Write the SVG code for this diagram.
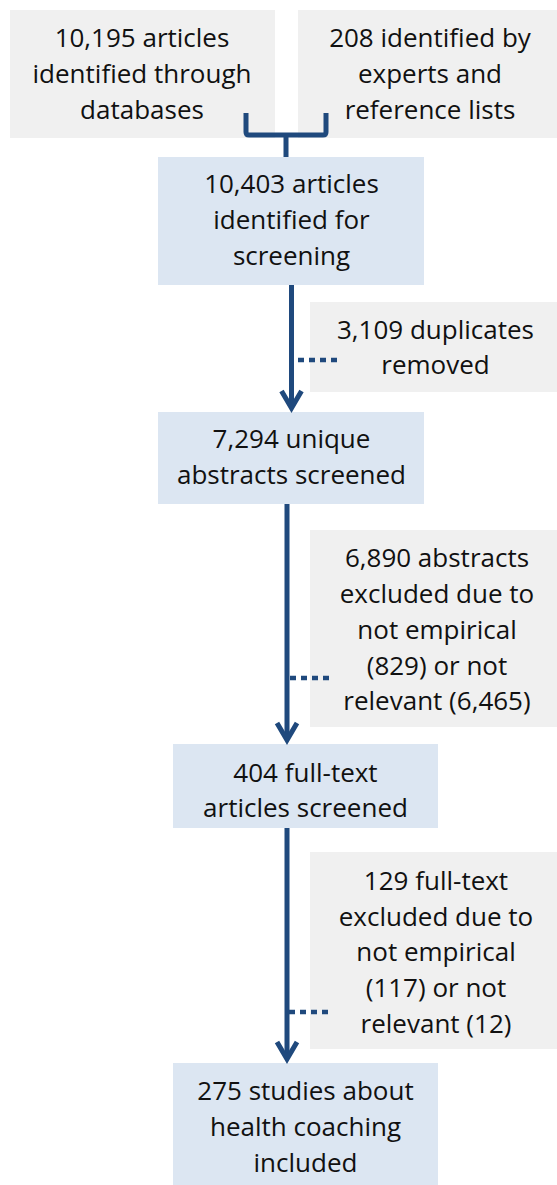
<svg xmlns="http://www.w3.org/2000/svg" width="557" height="1185" viewBox="0 0 557 1185">
<defs>
<style>
.g{fill:#f0f0f0}
.b{fill:#dce6f2}
text{font-family:"Open Sans","Liberation Sans",sans-serif;font-size:26px;fill:#111;text-anchor:middle}
.ln{stroke:#1f497d;stroke-width:5;fill:none}
.dot{stroke:#1f497d;stroke-width:4.5;fill:none;stroke-dasharray:6 5}
</style>
<marker id="ah" markerUnits="userSpaceOnUse" orient="auto" refX="0" refY="0" markerWidth="40" markerHeight="40" overflow="visible">
<path d="M-17,-10 L0,0 L-17,10" stroke="#1f497d" stroke-width="5" fill="none"/>
</marker>
</defs>
<rect width="557" height="1185" fill="#fff"/>
<g id="n1"><rect class="g" x="10" y="10" width="265" height="128"/>
<text x="142" y="47">10,195 articles</text><text x="142" y="83">identified through</text><text x="142" y="119">databases</text></g>
<g id="n2"><rect class="g" x="298" y="10" width="259" height="128"/>
<text x="430" y="47">208 identified by</text><text x="430" y="83">experts and</text><text x="430" y="119">reference lists</text></g>
<g id="n3"><rect class="b" x="158" y="157" width="266" height="128"/>
<text x="291.5" y="193">10,403 articles</text><text x="291.5" y="229">identified for</text><text x="291.5" y="265">screening</text></g>
<g id="n4"><rect class="g" x="310" y="302" width="247" height="90"/>
<text x="435.5" y="339">3,109 duplicates</text><text x="435.5" y="374">removed</text></g>
<g id="n5"><rect class="b" x="158" y="412" width="266" height="92"/>
<text x="291.5" y="448">7,294 unique</text><text x="291.5" y="484">abstracts screened</text></g>
<g id="n6"><rect class="g" x="310" y="530" width="247" height="197"/>
<text x="437" y="567">6,890 abstracts</text><text x="437" y="603">excluded due to</text><text x="437" y="639">not empirical</text><text x="437" y="675">(829) or not</text><text x="437" y="710">relevant (6,465)</text></g>
<g id="n7"><rect class="b" x="173" y="744" width="265" height="84"/>
<text x="305.5" y="782">404 full-text</text><text x="305.5" y="817">articles screened</text></g>
<g id="n8"><rect class="g" x="310" y="852" width="247" height="197"/>
<text x="436" y="890">129 full-text</text><text x="436" y="926">excluded due to</text><text x="436" y="961">not empirical</text><text x="436" y="997">(117) or not</text><text x="436" y="1033">relevant (12)</text></g>
<g id="n9"><rect class="b" x="173" y="1063" width="265" height="122"/>
<text x="305.5" y="1100">275 studies about</text><text x="305.5" y="1136">health coaching</text><text x="305.5" y="1172">included</text></g>
<g id="connectors">
<path class="ln" d="M246,113 V132 Q246,135 249,135 H323 Q326,135 326,132 V113 M286,135 V157"/>
<path class="ln" d="M291.5,285 V408" marker-end="url(#ah)"/>
<path class="dot" d="M298,360 H340"/>
<path class="ln" d="M287,504 V740" marker-end="url(#ah)"/>
<path class="dot" d="M290,678 H331"/>
<path class="ln" d="M287,828 V1059" marker-end="url(#ah)"/>
<path class="dot" d="M289,1012 H330"/>
</g>
</svg>
